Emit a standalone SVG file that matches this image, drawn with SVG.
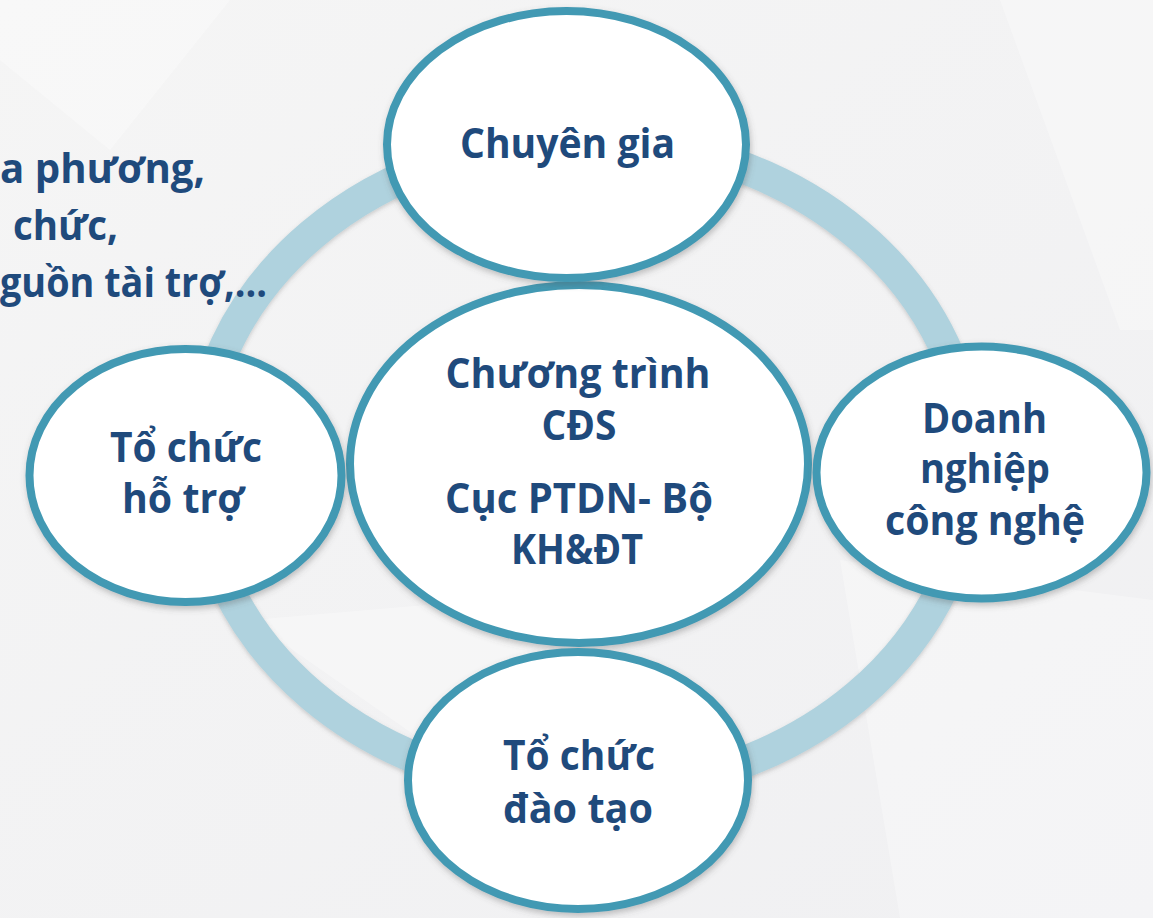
<svg xmlns="http://www.w3.org/2000/svg" width="1153" height="918" viewBox="0 0 1153 918">
  <defs>
    <linearGradient id="bg" x1="0" y1="0" x2="1" y2="1">
      <stop offset="0" stop-color="#f5f5f5"/>
      <stop offset="1" stop-color="#f0f0f2"/>
    </linearGradient>
    <filter id="shadow" x="-10%" y="-10%" width="120%" height="125%">
      <feDropShadow dx="1" dy="3" stdDeviation="3" flood-color="#555" flood-opacity="0.35"/>
    </filter>
    <filter id="ringShadow" x="-10%" y="-10%" width="120%" height="120%">
      <feDropShadow dx="0" dy="2" stdDeviation="2" flood-color="#666" flood-opacity="0.3"/>
    </filter>
    <style>
      .node { fill: #ffffff; stroke: #4299b3; stroke-width: 8; filter: url(#shadow); }
      .ring { fill: none; stroke: #afd2de; stroke-width: 32; filter: url(#ringShadow); }
      .lbl { font-family: "Open Sans", "Noto Sans", "DejaVu Sans", sans-serif; font-weight: 700; font-size: 42px; fill: #1f4a7c; text-anchor: middle; }
      .side { font-family: "Open Sans", "Noto Sans", "DejaVu Sans", sans-serif; font-weight: 700; font-size: 42px; fill: #1f4a7c; }
      .facet { fill: #ffffff; opacity: 0.3; }
    </style>
  </defs>

  <!-- background -->
  <rect x="0" y="0" width="1153" height="918" fill="url(#bg)"/>
  <polygon class="facet" points="0,0 230,0 110,150 0,60"/>
  <polygon class="facet" points="1000,0 1153,0 1153,330 1120,330"/>
  <polygon class="facet" points="840,560 1153,600 1153,918 900,918"/>
  <polygon class="facet" points="250,620 600,590 450,760"/>

  <!-- connectors: the ring -->
  <g id="connectors">
    <ellipse class="ring" cx="585" cy="465" rx="386" ry="326"/>
  </g>

  <!-- side text -->
  <g id="side-text">
    <text class="side" x="0" y="183" textLength="205" lengthAdjust="spacingAndGlyphs">a phương,</text>
    <text class="side" x="13" y="240" textLength="105" lengthAdjust="spacingAndGlyphs">chức,</text>
    <text class="side" x="0" y="297" textLength="267" lengthAdjust="spacingAndGlyphs">guồn tài trợ,...</text>
  </g>

  <g id="node-center">
    <ellipse class="node" cx="579" cy="464" rx="229" ry="179"/>
    <text class="lbl" x="578" y="388" textLength="265" lengthAdjust="spacingAndGlyphs">Chương trình</text>
    <text class="lbl" x="579" y="440" textLength="75" lengthAdjust="spacingAndGlyphs">CĐS</text>
    <text class="lbl" x="579" y="513" textLength="268" lengthAdjust="spacingAndGlyphs">Cục PTDN- Bộ</text>
    <text class="lbl" x="577" y="564" textLength="132" lengthAdjust="spacingAndGlyphs">KH&amp;ĐT</text>
  </g>

  <g id="node-chuyen-gia">
    <ellipse class="node" cx="566.5" cy="144.5" rx="179.5" ry="133.5"/>
    <text class="lbl" x="567.5" y="158" textLength="215" lengthAdjust="spacingAndGlyphs">Chuyên gia</text>
  </g>

  <g id="node-to-chuc-ho-tro">
    <ellipse class="node" cx="185.5" cy="475.5" rx="156" ry="126.5"/>
    <text class="lbl" x="186" y="462" textLength="152" lengthAdjust="spacingAndGlyphs">Tổ chức</text>
    <text class="lbl" x="183" y="513" textLength="122" lengthAdjust="spacingAndGlyphs">hỗ trợ</text>
  </g>

  <g id="node-doanh-nghiep">
    <ellipse class="node" cx="981.5" cy="472.5" rx="165" ry="126"/>
    <text class="lbl" x="984.5" y="433" textLength="125" lengthAdjust="spacingAndGlyphs">Doanh</text>
    <text class="lbl" x="985" y="483" textLength="130" lengthAdjust="spacingAndGlyphs">nghiệp</text>
    <text class="lbl" x="985" y="535" textLength="200" lengthAdjust="spacingAndGlyphs">công nghệ</text>
  </g>

  <g id="node-dao-tao">
    <ellipse class="node" cx="578" cy="780.5" rx="170" ry="128.5"/>
    <text class="lbl" x="579" y="770" textLength="152" lengthAdjust="spacingAndGlyphs">Tổ chức</text>
    <text class="lbl" x="578" y="823" textLength="150" lengthAdjust="spacingAndGlyphs">đào tạo</text>
  </g>
</svg>
